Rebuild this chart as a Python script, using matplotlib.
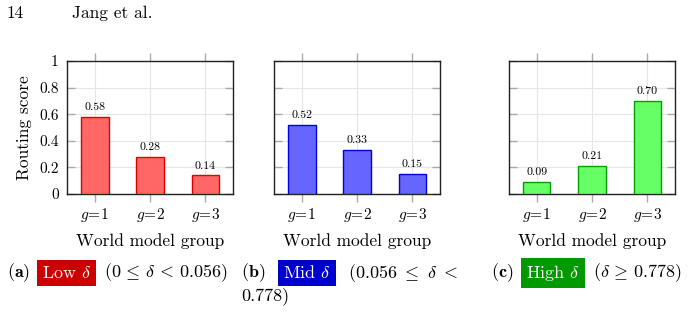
import matplotlib
matplotlib.use("Agg")
import matplotlib.pyplot as plt

plt.rcParams['font.family'] = ['cmr10', 'DejaVu Serif']
plt.rcParams['mathtext.fontset'] = 'cm'
plt.rcParams['axes.unicode_minus'] = False

# data
groups = [1, 2, 3]
group_labels = [r'$g\!=\!1$', r'$g\!=\!2$', r'$g\!=\!3$']
low_scores = [0.58, 0.28, 0.14]
mid_scores = [0.52, 0.33, 0.15]
high_scores = [0.09, 0.21, 0.70]
y_ticks = [0, 0.2, 0.4, 0.6, 0.8, 1]
y_tick_labels = ['0', '0.2', '0.4', '0.6', '0.8', '1']

W, H = 688, 313
fig = plt.figure(figsize=(W / 100, H / 100), dpi=100)

def px(x, y):
    return x / W, 1 - y / H

panels = [
    (67, low_scores, '#FF6666', '#DD0000'),
    (274, mid_scores, '#6666FF', '#0000DD'),
    (509, high_scores, '#66FF66', '#00A000'),
]

for i, (left, scores, fc, ec) in enumerate(panels):
    ax = fig.add_axes([left / W, (H - 194) / H, 166 / W, 133 / H])
    ax.bar(groups, scores, width=0.5, color=fc, edgecolor=ec, linewidth=1, zorder=3)
    for g, s in zip(groups, scores):
        ax.text(g, s + 0.035, '%.2f' % s, ha='center', va='bottom', fontsize=8.5, zorder=4)
    ax.set_xlim(0.5, 3.5)
    ax.set_ylim(0, 1)
    ax.set_xticks(groups)
    ax.set_xticklabels(group_labels, fontsize=11)
    ax.set_yticks(y_ticks)
    if i == 0:
        ax.set_yticklabels(y_tick_labels, fontsize=11)
        ax.set_ylabel('Routing score', fontsize=12.5, labelpad=5)
    else:
        ax.set_yticklabels([])
    ax.grid(True, color='#e6e6e6', linewidth=0.8, zorder=0)
    ax.tick_params(axis='x', direction='out', length=6, color='#aaaaaa', width=1,
                   top=True, bottom=True, pad=3)
    ax.tick_params(axis='y', direction='in', length=6, color='#aaaaaa', width=1,
                   left=True, right=True, pad=6)
    for sp in ax.spines.values():
        sp.set_color('#222222')
        sp.set_linewidth(1)
    ax.set_xlabel('World model group', fontsize=12.5, labelpad=6)

# page header
fig.text(*px(7, 13), '14', fontsize=12.5, va='center', ha='left')
fig.text(*px(72, 13), 'Jang et al.', fontsize=12.5, va='center', ha='left')

# sub captions
cap_y = 273
fs = 13
fig.text(*px(7, cap_y), r'$\mathbf{(a)}$', fontsize=fs, va='center')
fig.text(*px(42, cap_y), r'Low $\delta$', fontsize=fs, va='center', color='white',
         bbox=dict(facecolor='#CC0000', edgecolor='none', pad=3.5))
fig.text(*px(104, cap_y), r'$(0\,\leq\,\delta\,<\,0.056)$', fontsize=fs, va='center')

fig.text(*px(241, cap_y), r'$\mathbf{(b)}$', fontsize=fs, va='center')
fig.text(*px(283, cap_y), r'Mid $\delta$', fontsize=fs, va='center', color='white',
         bbox=dict(facecolor='#0000CC', edgecolor='none', pad=3.5))
fig.text(*px(348, cap_y), r'$(0.056\ \leq\ \delta\ <$', fontsize=fs, va='center')
fig.text(*px(241, 296), '0.778)', fontsize=fs, va='center')

fig.text(*px(491, cap_y), r'$\mathbf{(c)}$', fontsize=fs, va='center')
fig.text(*px(526, cap_y), r'High $\delta$', fontsize=fs, va='center', color='white',
         bbox=dict(facecolor='#009900', edgecolor='none', pad=3.5))
fig.text(*px(593, cap_y), r'$(\delta\,\geq\,0.778)$', fontsize=fs, va='center')

fig.savefig('out.png', dpi=100)
